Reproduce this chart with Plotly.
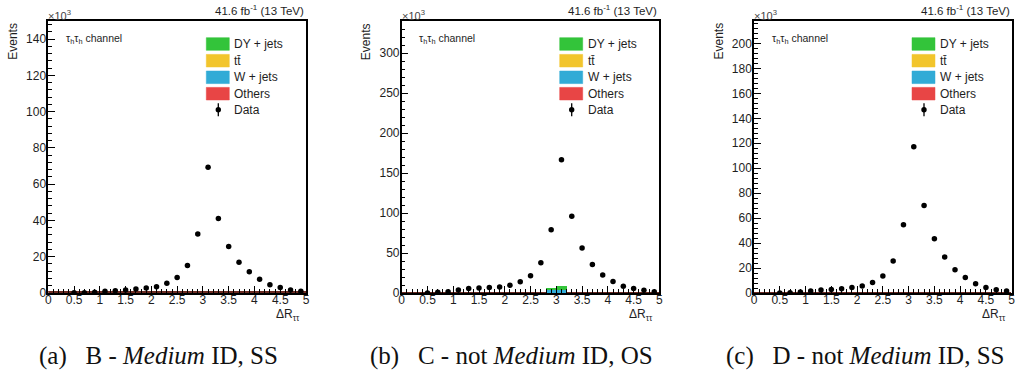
import plotly.graph_objects as go

# ---------------- data (values in units of 10^3 events) ----------------
bin_centers = [0.1, 0.3, 0.5, 0.7, 0.9, 1.1, 1.3, 1.5, 1.7, 1.9, 2.1, 2.3, 2.5,
               2.7, 2.9, 3.1, 3.3, 3.5, 3.7, 3.9, 4.1, 4.3, 4.5, 4.7, 4.9]
data_centers = [0.5, 0.7, 0.9, 1.1, 1.3, 1.5, 1.7, 1.9, 2.1, 2.3, 2.5, 2.7,
                2.9, 3.1, 3.3, 3.5, 3.7, 3.9, 4.1, 4.3, 4.5, 4.7, 4.9]

data_B = [0.1, 0.2, 0.4, 0.9, 1.3, 1.7, 2.2, 2.8, 3.5, 5.4, 8.5, 15.2,
          32.6, 69.4, 41.1, 25.7, 16.9, 11.7, 7.6, 4.6, 3.0, 1.7, 0.9]
data_C = [0.1, 0.8, 1.7, 3.8, 5.5, 6.4, 6.8, 7.6, 9.7, 14.0, 21.6, 37.7,
          79.2, 166.5, 95.8, 56.4, 35.6, 22.5, 14.4, 8.5, 5.5, 3.4, 1.7]
data_D = [0.1, 0.2, 0.8, 1.6, 2.4, 2.9, 3.5, 4.5, 5.6, 8.5, 13.6, 25.6,
          54.7, 117.3, 70.1, 43.5, 28.8, 18.7, 12.5, 7.5, 4.5, 2.7, 1.6]

# simulated backgrounds (tiny contributions in these control regions)
others_B = [0.3] * 25
others_C = [0.3] * 25
others_D = [0.3] * 25
wjets_B = [0.0] * 25
wjets_C = [0, 0, 0, 0, 0, 0, 0, 0, 0, 0, 0, 0, 0, 0, 3.0, 3.0, 0, 0, 0, 0, 0, 0, 0, 0, 0]
wjets_D = [0.0] * 25
dy_B = [0.0] * 25
dy_C = [0, 0, 0, 0, 0, 0, 0, 0, 0, 0, 0, 0, 0, 0, 2.5, 5.5, 0, 0, 0, 0, 0, 0, 0, 0, 0]
dy_D = [0.0] * 25

y_max = [150, 340, 218]
y_dtick = [20, 50, 20]
y_minor = [4, 10, 4]

x_ticks = [0, 0.5, 1, 1.5, 2, 2.5, 3, 3.5, 4, 4.5, 5]
x_ticktext = ["0", "0.5", "1", "1.5", "2", "2.5", "3", "3.5", "4", "4.5", "5"]

legend_labels = ["DY + jets", "t\u0074\u0304", "W + jets", "Others", "Data"]
legend_colors = ["#33c43a", "#f2c52c", "#31abd6", "#e84545"]
captions = ["(a)\u2002 B - <i>Medium</i> ID, SS",
            "(b)\u2002 C - not <i>Medium</i> ID, OS",
            "(c)\u2002 D - not <i>Medium</i> ID, SS"]

W, H = 1024, 379
def px(x):
    return x / W
def py(y):
    return 1 - y / H

frame_left = [48.3, 401.7, 754.0]
frame_w = 257.7
frame_top, frame_bot = 21.0, 293.0

FONT = "Liberation Sans, Arial, sans-serif"
TXT = "#1e1e1e"

fig = go.Figure()

panels = [
    (data_B, others_B, wjets_B, dy_B),
    (data_C, others_C, wjets_C, dy_C),
    (data_D, others_D, wjets_D, dy_D),
]

for i, (dat, oth, wj, dy) in enumerate(panels):
    xa = "x" if i == 0 else f"x{i+1}"
    ya = "y" if i == 0 else f"y{i+1}"
    fig.add_trace(go.Bar(x=bin_centers, y=oth, width=0.2, xaxis=xa, yaxis=ya,
                         marker=dict(color=legend_colors[3],
                                     line=dict(color="#6b2a22", width=1.2))))
    fig.add_trace(go.Bar(x=bin_centers, y=wj, width=0.2, xaxis=xa, yaxis=ya,
                         marker=dict(color=legend_colors[2], line=dict(width=0))))
    fig.add_trace(go.Bar(x=bin_centers, y=dy, width=0.2, xaxis=xa, yaxis=ya,
                         marker=dict(color=legend_colors[0], line=dict(width=0))))
    fig.add_trace(go.Scatter(x=data_centers, y=dat, mode="markers",
                             xaxis=xa, yaxis=ya,
                             marker=dict(color="black", size=5.5)))

layout = dict(
    width=W, height=H, margin=dict(l=0, r=0, t=0, b=0, autoexpand=False),
    plot_bgcolor="white", paper_bgcolor="white",
    showlegend=False, barmode="stack", bargap=0,
    font=dict(family=FONT, color=TXT),
)

annotations = []
shapes = []
for i in range(3):
    L = frame_left[i]
    R = L + frame_w
    xk = "xaxis" if i == 0 else f"xaxis{i+1}"
    yk = "yaxis" if i == 0 else f"yaxis{i+1}"
    yref_anchor = "y" if i == 0 else f"y{i+1}"
    xref_anchor = "x" if i == 0 else f"x{i+1}"
    layout[xk] = dict(
        domain=[px(L), px(R)], range=[0, 5], anchor=yref_anchor, automargin=False,
        tickvals=x_ticks, ticktext=x_ticktext,
        ticks="inside", ticklen=7, tickwidth=1, tickcolor="black",
        minor=dict(ticks="inside", ticklen=4, dtick=0.1, tickcolor="black", tickwidth=1),
        showline=True, linecolor="black", linewidth=1.5, mirror=True,
        showgrid=False, zeroline=False, ticklabelstandoff=-5,
        tickfont=dict(family=FONT, size=12, color=TXT),
    )
    layout[yk] = dict(
        domain=[py(frame_bot), py(frame_top)], range=[0, y_max[i]], anchor=xref_anchor,
        automargin=False, dtick=y_dtick[i], tick0=0,
        ticks="inside", ticklen=7, tickwidth=1, tickcolor="black",
        minor=dict(ticks="inside", ticklen=4, dtick=y_minor[i], tickcolor="black", tickwidth=1),
        showline=True, linecolor="black", linewidth=1.5, mirror=True,
        showgrid=False, zeroline=False, ticklabelstandoff=-2,
        tickfont=dict(family=FONT, size=12, color=TXT),
    )
    annotations.append(dict(text="Events", x=px(L - 36), y=py(frame_top),
                            xref="paper", yref="paper", textangle=-90,
                            xanchor="center", yanchor="top", showarrow=False,
                            font=dict(family=FONT, size=12, color=TXT)))
    annotations.append(dict(text="\u00d710<sup>3</sup>", x=px(L - 2), y=py(15),
                            xref="paper", yref="paper", xanchor="left", yanchor="middle",
                            showarrow=False, font=dict(family=FONT, size=11, color="#444")))
    annotations.append(dict(text="41.6 fb<sup>-1</sup> (13 TeV)", x=px(R), y=py(10),
                            xref="paper", yref="paper", xanchor="right", yanchor="middle",
                            showarrow=False, font=dict(family=FONT, size=11.5, color=TXT)))
    annotations.append(dict(text="\u03c4<sub>h</sub>\u03c4<sub>h</sub> channel",
                            x=px(L + 15.5), y=py(39),
                            xref="paper", yref="paper", xanchor="left", yanchor="middle",
                            showarrow=False, font=dict(family=FONT, size=10.5, color=TXT)))
    annotations.append(dict(text="\u0394R<sub>\u03c4\u03c4</sub>", x=px(R - 4), y=py(315),
                            xref="paper", yref="paper", xanchor="right", yanchor="middle",
                            showarrow=False, font=dict(family=FONT, size=12, color=TXT)))
    row_y = [44, 60.7, 77.3, 93.7, 109.7]
    for k in range(5):
        if k < 4:
            shapes.append(dict(type="rect", xref="paper", yref="paper",
                               x0=px(L + 158), x1=px(L + 181),
                               y0=py(row_y[k] - 6.3), y1=py(row_y[k] + 6.3),
                               fillcolor=legend_colors[k],
                               line=dict(color=legend_colors[k], width=0.5)))
        else:
            cx = L + 170
            shapes.append(dict(type="line", xref="paper", yref="paper",
                               x0=px(cx), x1=px(cx), y0=py(row_y[k] - 6.5), y1=py(row_y[k] + 6.5),
                               line=dict(color="black", width=1.3)))
            shapes.append(dict(type="circle", xref="paper", yref="paper",
                               x0=px(cx - 2.7), x1=px(cx + 2.7),
                               y0=py(row_y[k] - 2.7), y1=py(row_y[k] + 2.7),
                               fillcolor="black", line=dict(color="black", width=0)))
        annotations.append(dict(text=legend_labels[k], x=px(L + 184), y=py(row_y[k]),
                                xref="paper", yref="paper", xanchor="left", yanchor="middle",
                                showarrow=False, font=dict(family=FONT, size=12, color=TXT)))

cap_left = [37, 368, 724]
for i in range(3):
    annotations.append(dict(text=captions[i], x=px(cap_left[i]), y=py(356),
                            xref="paper", yref="paper", xanchor="left", yanchor="middle",
                            showarrow=False,
                            font=dict(family="Liberation Serif, DejaVu Serif, serif",
                                      size=25, color="#111")))

layout["annotations"] = annotations
layout["shapes"] = shapes
fig.update_layout(**layout)

fig.write_html("out.html",
               config={"displayModeBar": False},
               post_script="document.body.style.margin='0';document.body.style.overflow='hidden';")
